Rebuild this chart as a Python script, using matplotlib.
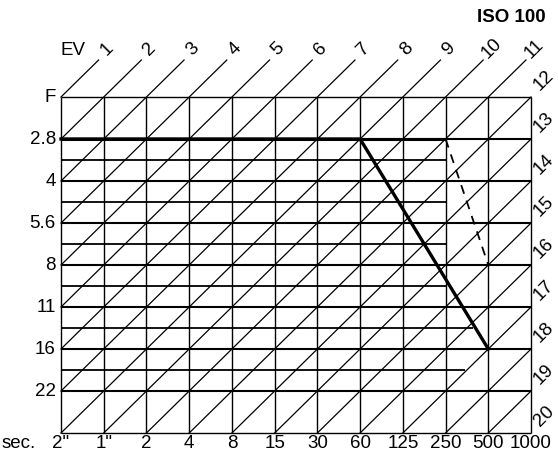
import matplotlib.pyplot as plt

plt.rcParams['font.family'] = ['Liberation Sans', 'DejaVu Sans']

# exposure table values
shutter_labels = ['2"', '1"', '2', '4', '8', '15', '30', '60', '125', '250', '500', '1000']
aperture_labels = ['F', '2.8', '4', '5.6', '8', '11', '16', '22']
ev_values = list(range(1, 21))

# half-stop aperture rows (drawn below each listed f-number) and how far right they run
half_stop_after = ['2.8', '4', '5.6', '8', '11', '16']
half_stop_reach = [9, 9, 9, 9, 9.65, 9.45]

# programmed exposure curve and the alternative (dashed) curve
program_shutter = ['2"', '60', '500']
program_aperture = ['2.8', '2.8', '16']
alt_shutter = ['250', '500']
alt_aperture = ['2.8', '8']

n_cols = len(shutter_labels) - 1
n_rows = len(aperture_labels)      # one extra unlabelled row at the bottom
fs = 13.5


def col(s):
    return shutter_labels.index(s)


def row(a):
    return aperture_labels.index(a)


fig = plt.figure(figsize=(5.58, 4.54), dpi=100)
ax = fig.add_axes([0, 0, 1, 1])
ax.set_xlim(-61 / 42.73, (558 - 61) / 42.73)
ax.set_ylim((454 - 97) / 42.0, -97 / 42.0)
ax.axis('off')

k = 'black'

# vertical lines (shutter speeds)
for c in range(n_cols + 1):
    ax.plot([c, c], [0, n_rows], color=k, lw=1.0, solid_capstyle='butt')

# full aperture rows
for r in range(n_rows + 1):
    ax.plot([0, n_cols], [r, r], color=k, lw=1.5 if 0 < r < n_rows else 1.0,
            solid_capstyle='butt')

# half-stop rows
for a, reach in zip(half_stop_after, half_stop_reach):
    r = row(a) + 0.5
    ax.plot([0, reach], [r, r], color=k, lw=1.3, solid_capstyle='butt')

# f/2.8 row drawn heavier up to 1/250
ax.plot([0, col('250')], [row('2.8')] * 2, color=k, lw=2.2, solid_capstyle='butt')

# EV diagonals
for ev in ev_values:
    s = ev - 1
    r0 = min(n_rows, s)
    c0 = s - r0
    c1 = min(n_cols, s)
    r1 = s - c1
    if ev <= n_cols:
        ax.plot([c0, c1 + 0.88], [r0, r1 - 0.88], color=k, lw=0.9)
        ax.text(c1 + 1.08, -1.15, str(ev), rotation=45, ha='center', va='center',
                fontsize=fs)
    else:
        if c0 != c1:
            ax.plot([c0, c1], [r0, r1], color=k, lw=0.9)
        ax.text(c1 + 0.3, r1 - 0.4, str(ev), rotation=45, ha='center',
                va='center', fontsize=fs)

# exposure program curves
ax.plot([col(s) for s in program_shutter], [row(a) for a in program_aperture],
        color=k, lw=2.4, solid_joinstyle='miter')
ax.plot([col(s) for s in alt_shutter], [row(a) for a in alt_aperture],
        color=k, lw=1.3, dashes=(5, 4))

# axis labels
for r, a in enumerate(aperture_labels):
    ax.text(-0.12, r, a, ha='right', va='center', fontsize=fs)
for c, s in enumerate(shutter_labels):
    ax.text(c, n_rows + 0.25, s, ha='center', va='center', fontsize=fs)
ax.text(-0.6, n_rows + 0.25, 'sec.', ha='right', va='center', fontsize=fs)
ax.text(0.27, -1.1, 'EV', ha='center', va='center', fontsize=fs)
ax.text(11.35, -1.9, 'ISO 100', ha='right', va='center', fontsize=fs,
        fontweight='bold')

fig.savefig('out.png', dpi=100)
